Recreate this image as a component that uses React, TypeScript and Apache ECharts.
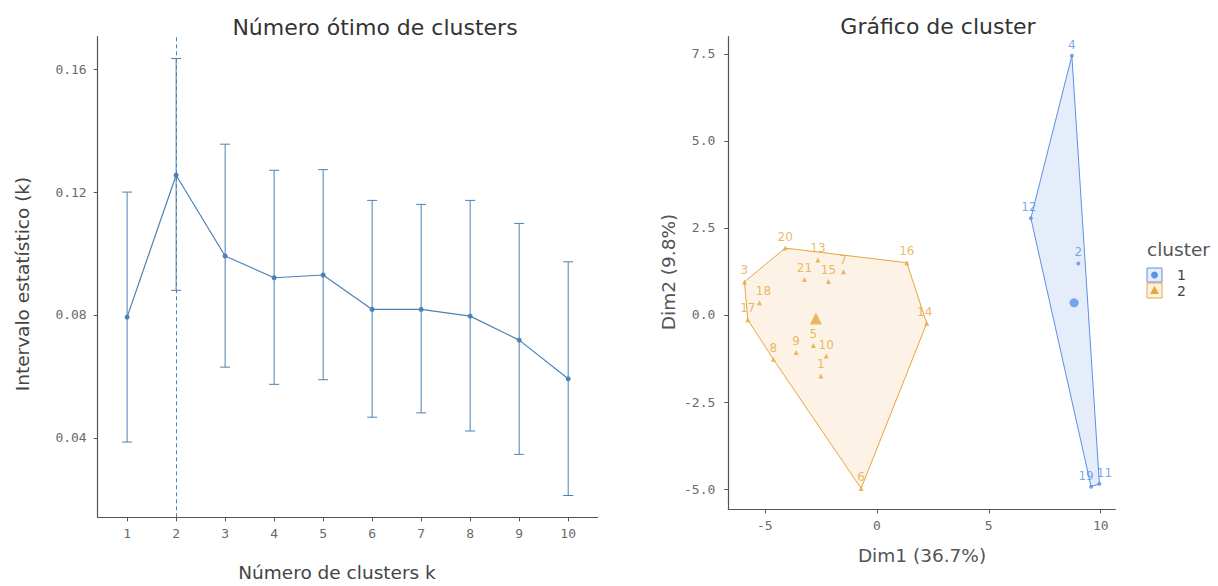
import React, { useEffect, useRef } from "react";
import * as echarts from "echarts";

// ---------- Left panel: gap statistic ----------
const kValues = [1, 2, 3, 4, 5, 6, 7, 8, 9, 10];
const gapValues = [0.0793, 0.1255, 0.0992, 0.0921, 0.093, 0.0818, 0.0818, 0.0796, 0.0718, 0.0592];
const gapUpper = [0.12, 0.1635, 0.1356, 0.1271, 0.1273, 0.1173, 0.116, 0.1173, 0.1098, 0.0973];
const gapLower = [0.0386, 0.088, 0.063, 0.0574, 0.0589, 0.0467, 0.0481, 0.0422, 0.0346, 0.0212];
const optimalK = 2;
const gapTicks = [0.04, 0.08, 0.12, 0.16];

// ---------- Right panel: cluster plot ----------
const cluster1Names = ["2", "4", "11", "12", "19"];
const cluster1Dim1 = [9.0, 8.71, 9.94, 6.88, 9.57];
const cluster1Dim2 = [1.48, 7.44, -4.85, 2.78, -4.93];
const cluster2Names = ["1", "3", "5", "6", "7", "8", "9", "10", "13", "14", "15", "16", "17", "18", "20", "21"];
const cluster2Dim1 = [-2.5, -5.91, -2.83, -0.7, -1.49, -4.62, -3.6, -2.26, -2.63, 2.23, -2.16, 1.34, -5.76, -5.24, -4.09, -3.23];
const cluster2Dim2 = [-1.75, 0.95, -0.88, -4.98, 1.24, -1.27, -1.08, -1.18, 1.58, -0.24, 0.96, 1.5, -0.14, 0.35, 1.92, 1.02];
const cluster1Center = [8.81, 0.35];
const cluster2Center = [-2.72, -0.1];
const legendLabels = ["1", "2"];
const dim1Ticks = [-5, 0, 5, 10];
const dim2Ticks = [-5, -2.5, 0, 2.5, 5, 7.5];

const BLUE = "#5C8FE6";
const ORANGE = "#E6A63E";
const LINE_BLUE = "#4A82B5";
const AXIS = "#555555";
const TICK_TXT = "#6a6a6a";
const MONO = '"DejaVu Sans Mono", monospace';
const SANS = '"DejaVu Sans", sans-serif';

const labelOffsets: Record<string, number[]> = {
  "19": [-5, 0],
  "11": [5, 0],
  "12": [-2, 0],
  "18": [4, 0],
  "14": [-2, 0],
};

function convexHull(pts: number[][]): number[][] {
  const p = pts.slice().sort((a, b) => (a[0] === b[0] ? a[1] - b[1] : a[0] - b[0]));
  const cross = (o: number[], a: number[], b: number[]) =>
    (a[0] - o[0]) * (b[1] - o[1]) - (a[1] - o[1]) * (b[0] - o[0]);
  const lower: number[][] = [];
  for (const q of p) {
    while (lower.length >= 2 && cross(lower[lower.length - 2], lower[lower.length - 1], q) <= 0) lower.pop();
    lower.push(q);
  }
  const upper: number[][] = [];
  for (let i = p.length - 1; i >= 0; i--) {
    const q = p[i];
    while (upper.length >= 2 && cross(upper[upper.length - 2], upper[upper.length - 1], q) <= 0) upper.pop();
    upper.push(q);
  }
  upper.pop();
  lower.pop();
  return lower.concat(upper);
}

const cluster1Pts = cluster1Dim1.map((x, i) => [x, cluster1Dim2[i]]);
const cluster2Pts = cluster2Dim1.map((x, i) => [x, cluster2Dim2[i]]);
const hulls = [convexHull(cluster2Pts), convexHull(cluster1Pts)];
const hullColors = [ORANGE, BLUE];
const hullFillOpacity = [0.13, 0.16];

function pointData(names: string[], pts: number[][]) {
  return names.map((n, i) => ({
    name: n,
    value: pts[i],
    label: labelOffsets[n] ? { offset: labelOffsets[n] } : undefined,
  }));
}

function valueAxis(gridIndex: number, min: number, max: number, ticks: number[], fmt: (v: number) => string, margin: number) {
  return {
    type: "value",
    gridIndex,
    min,
    max,
    axisLine: { show: true, onZero: false, lineStyle: { color: AXIS, width: 1.2 } },
    axisTick: { show: true, length: 4, customValues: ticks, lineStyle: { color: AXIS, width: 1 } },
    axisLabel: {
      customValues: ticks,
      formatter: (v: number) => fmt(v),
      margin,
      color: TICK_TXT,
      fontFamily: MONO,
      fontSize: 13,
    },
    splitLine: { show: false },
  };
}

export default function App() {
  const ref = useRef<HTMLDivElement>(null);
  useEffect(() => {
    if (!ref.current) return;
    const chart = echarts.init(ref.current, undefined, { renderer: "svg" });
    const option: any = {
      animation: false,
      backgroundColor: "#ffffff",
      grid: [
        { left: 97.7, top: 36.7, width: 499.9, height: 480.6 },
        { left: 728.3, top: 36.7, width: 387, height: 472.6 },
      ],
      xAxis: [
        valueAxis(0, 0.4, 10.6, kValues, (v) => String(v), 10),
        valueAxis(1, -6.63, 10.65, dim1Ticks, (v) => String(v), 10),
      ],
      yAxis: [
        valueAxis(0, 0.0141, 0.1706, gapTicks, (v) => v.toFixed(2), 11),
        valueAxis(1, -5.58, 7.99, dim2Ticks, (v) => v.toFixed(1), 13),
      ],
      series: [
        {
          type: "custom",
          xAxisIndex: 0,
          yAxisIndex: 0,
          data: kValues.map((k, i) => [k, gapLower[i], gapUpper[i]]),
          encode: { x: 0, y: [1, 2] },
          renderItem: (params: any, api: any) => {
            const x = api.value(0);
            const lo = api.coord([x, api.value(1)]);
            const hi = api.coord([x, api.value(2)]);
            const hw = 5;
            const st = { stroke: LINE_BLUE, lineWidth: 1 };
            return {
              type: "group",
              children: [
                { type: "line", shape: { x1: lo[0], y1: lo[1], x2: hi[0], y2: hi[1] }, style: st },
                { type: "line", shape: { x1: lo[0] - hw, y1: lo[1], x2: lo[0] + hw, y2: lo[1] }, style: st },
                { type: "line", shape: { x1: hi[0] - hw, y1: hi[1], x2: hi[0] + hw, y2: hi[1] }, style: st },
              ],
            };
          },
          z: 2,
        },
        {
          type: "line",
          xAxisIndex: 0,
          yAxisIndex: 0,
          data: kValues.map((k, i) => [k, gapValues[i]]),
          symbol: "circle",
          symbolSize: 5,
          itemStyle: { color: LINE_BLUE },
          lineStyle: { color: LINE_BLUE, width: 1.2 },
          markLine: {
            silent: true,
            symbol: ["none", "none"],
            label: { show: false },
            lineStyle: { color: LINE_BLUE, type: [4, 3], width: 1 },
            data: [{ xAxis: optimalK }],
          },
          z: 3,
        },
        {
          type: "custom",
          xAxisIndex: 1,
          yAxisIndex: 1,
          data: [[0, 0], [1, 0]],
          renderItem: (params: any, api: any) => {
            const idx = params.dataIndex;
            const pts = hulls[idx].map((p) => api.coord(p));
            const c = hullColors[idx];
            return {
              type: "polygon",
              shape: { points: pts },
              style: { fill: c, fillOpacity: hullFillOpacity[idx], stroke: c, lineWidth: 1 },
              z2: 1,
            };
          },
          z: 1,
        },
        {
          type: "scatter",
          xAxisIndex: 1,
          yAxisIndex: 1,
          data: pointData(cluster2Names, cluster2Pts),
          symbol: "triangle",
          symbolSize: 5,
          itemStyle: { color: ORANGE },
          label: {
            show: true,
            formatter: "{b}",
            position: "top",
            distance: 3,
            color: ORANGE,
            fontSize: 12,
            fontFamily: SANS,
          },
          z: 4,
        },
        {
          type: "scatter",
          xAxisIndex: 1,
          yAxisIndex: 1,
          data: pointData(cluster1Names, cluster1Pts),
          symbol: "circle",
          symbolSize: 4,
          itemStyle: { color: BLUE },
          label: {
            show: true,
            formatter: "{b}",
            position: "top",
            distance: 3,
            color: BLUE,
            fontSize: 12,
            fontFamily: SANS,
          },
          z: 4,
        },
        {
          type: "scatter",
          xAxisIndex: 1,
          yAxisIndex: 1,
          data: [{ value: cluster2Center }],
          symbol: "triangle",
          symbolSize: 12,
          itemStyle: { color: ORANGE },
          z: 5,
        },
        {
          type: "scatter",
          xAxisIndex: 1,
          yAxisIndex: 1,
          data: [{ value: cluster1Center }],
          symbol: "circle",
          symbolSize: 9,
          itemStyle: { color: BLUE },
          z: 5,
        },
      ],
      graphic: [
        {
          type: "text",
          x: 375,
          y: 27,
          style: { text: "Número ótimo de clusters", fontSize: 22, fontFamily: SANS, fill: "#333", textAlign: "center", textVerticalAlign: "middle" },
        },
        {
          type: "text",
          x: 938,
          y: 26,
          style: { text: "Gráfico de cluster", fontSize: 22, fontFamily: SANS, fill: "#333", textAlign: "center", textVerticalAlign: "middle" },
        },
        {
          type: "text",
          x: 337,
          y: 572,
          style: { text: "Número de clusters k", fontSize: 18.5, fontFamily: SANS, fill: "#444", textAlign: "center", textVerticalAlign: "middle" },
        },
        {
          type: "text",
          x: 22,
          y: 284,
          rotation: Math.PI / 2,
          style: { text: "Intervalo estatístico (k)", fontSize: 18.5, fontFamily: SANS, fill: "#444", textAlign: "center", textVerticalAlign: "middle" },
        },
        {
          type: "text",
          x: 922,
          y: 555,
          style: { text: "Dim1 (36.7%)", fontSize: 18.5, fontFamily: SANS, fill: "#555", textAlign: "center", textVerticalAlign: "middle" },
        },
        {
          type: "text",
          x: 668,
          y: 272,
          rotation: Math.PI / 2,
          style: { text: "Dim2 (9.8%)", fontSize: 18.5, fontFamily: SANS, fill: "#555", textAlign: "center", textVerticalAlign: "middle" },
        },
        {
          type: "text",
          x: 1147,
          y: 249,
          style: { text: "cluster", fontSize: 18.5, fontFamily: SANS, fill: "#555", textAlign: "left", textVerticalAlign: "middle" },
        },
        {
          type: "rect",
          shape: { x: 1147, y: 268, width: 15, height: 14 },
          style: { fill: "#E6EEFC", stroke: BLUE, lineWidth: 1 },
        },
        {
          type: "circle",
          shape: { cx: 1154.5, cy: 275, r: 3.5 },
          style: { fill: BLUE },
        },
        {
          type: "rect",
          shape: { x: 1147, y: 283, width: 15, height: 15 },
          style: { fill: "#FCF2E2", stroke: ORANGE, lineWidth: 1 },
        },
        {
          type: "polygon",
          shape: { points: [[1154.5, 286], [1159, 294], [1150, 294]] },
          style: { fill: ORANGE },
        },
        {
          type: "text",
          x: 1177,
          y: 275,
          style: { text: legendLabels[0], fontSize: 14, fontFamily: SANS, fill: "#444", textAlign: "left", textVerticalAlign: "middle" },
        },
        {
          type: "text",
          x: 1177,
          y: 291,
          style: { text: legendLabels[1], fontSize: 14, fontFamily: SANS, fill: "#444", textAlign: "left", textVerticalAlign: "middle" },
        },
      ],
    };
    chart.setOption(option);
    return () => chart.dispose();
  }, []);
  return (
    <div
      ref={ref}
      style={{ position: "fixed", left: 0, top: 0, width: 1218, height: 586, background: "#fff" }}
    />
  );
}
